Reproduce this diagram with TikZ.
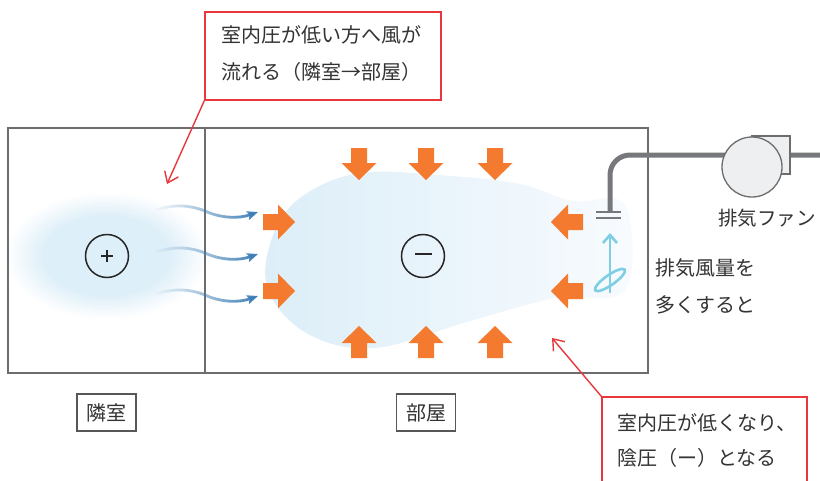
\documentclass[tikz,border=0pt]{standalone}
\usepackage{fontspec}
\newfontfamily\jp{Noto Sans CJK JP}
\usetikzlibrary{arrows.meta,fadings}
\definecolor{roomgray}{HTML}{6D6D6D}
\definecolor{pipegray}{HTML}{77787B}
\definecolor{fanfill}{HTML}{EEEFF1}
\definecolor{blobblue}{HTML}{DCEEF8}
\definecolor{blobend}{HTML}{F8FBFE}
\definecolor{wavecol}{HTML}{3C7DB5}
\definecolor{orangeA}{HTML}{F47A30}
\definecolor{calloutred}{HTML}{E8383D}
\definecolor{spiralcol}{HTML}{7ECFE3}
\definecolor{txt}{HTML}{333333}
\tikzfading[name=wavefade, left color=transparent!100, middle color=transparent!15, right color=transparent!0]
\tikzset{
  lbl/.style={font=\jp\fontsize{20pt}{24pt}\selectfont, text=txt, inner sep=0pt},
  room/.style={draw=roomgray, line width=2pt, fill=none, inner sep=0pt},
  roomlbl/.style={lbl, draw=roomgray!80!black, line width=1.3pt, minimum width=59pt, minimum height=37pt},
  calloutbox/.style={draw=calloutred, line width=1.4pt, fill=white, inner sep=0pt},
  calloutline/.style={draw=calloutred, line width=1.4pt, -{Straight Barb[length=10pt,width=15pt]}},
  signcircle/.style={circle, draw=black!85, line width=1.5pt, minimum size=43pt, inner sep=0pt},
  waveline/.style={draw=wavecol, line width=2.8pt, path fading=wavefade, -{Stealth[length=11pt,width=9pt,inset=2pt]}},
  fatarrow/.pic={\fill[orangeA] (-15,-8) -- (0,-8) -- (0,-17.5) -- (17,0) -- (0,17.5) -- (0,8) -- (-15,8) -- cycle;},
  pipe/.style={draw=pipegray, line width=5pt},
  fanpart/.style={draw=roomgray, line width=1.3pt, fill=fanfill},
}
\begin{document}
\begin{tikzpicture}[x=1pt,y=-1pt]
\clip (0,0) rectangle (820,480);
\fill[white] (0,0) rectangle (820,480);
% left blob: soft radial fade built from stacked ellipses
\foreach \i in {0,...,24}{
  \pgfmathsetmacro{\s}{1-\i*0.016}
  \pgfmathsetmacro{\c}{\i*4}
  \fill[blobblue!\c!white] (107,256) ellipse [x radius={102*\s}, y radius={64*\s}];
}
% right blob
\shade[left color=blobblue, right color=blobend] plot[smooth cycle, tension=0.6] coordinates {(360,173) (450,176) (520,184) (572,201) (625,205) (625,290) (555,298) (470,321) (375,348) (308,334) (268,290) (272,238) (300,198)};
% rooms
\node[room, minimum width=197pt, minimum height=245pt] (nextroom) at (106.5,250.5) {};
\node[room, minimum width=443pt, minimum height=245pt] (thisroom) at (426.5,250.5) {};
% signs
\node[signcircle] (plus) at (107,256) {};
\draw[black!85, line width=1.5pt] (101,256) -- (113,256) (107,250) -- (107,262);
\node[signcircle] (minus) at (423,256) {};
\draw[black!85, line width=2.6pt] (415,254) -- (432,254);
% wavy arrows
\foreach \y in {0,42,84}{
  \draw[waveline] (155,210+\y) .. controls (175,204+\y) and (190,205+\y) .. (205,211+\y) .. controls (220,218+\y) and (238,219+\y) .. (258,212+\y);
}
% orange arrows
\foreach \x in {359,426,495}{
  \pic[rotate=-90] at (\x,163) {fatarrow};
  \pic[rotate=90] at (\x,343) {fatarrow};
}
\foreach \y in {222,291}{
  \pic at (278,\y) {fatarrow};
  \pic[rotate=180] at (568,\y) {fatarrow};
}
% exhaust pipe and fan
\draw[pipe, rounded corners=20pt] (610,212) -- (610,155) -- (825,155);
\draw[fanpart] (752,136) rectangle (790,174);
\node[circle, fanpart, minimum size=60pt, inner sep=0pt] (fan) at (752,167) {};
\draw[draw=pipegray, line width=2pt] (596,211.5) -- (621,211.5) (596,217.5) -- (621,217.5);
\node[lbl, anchor=west, font=\jp\fontsize{19.5pt}{24pt}\selectfont] (fanlbl) at (718,218) {排気ファン};
% swirl arrow
\draw[spiralcol, line width=2.6pt, -{Straight Barb[length=8pt,width=14pt]}] (610,293) -- (610,233);
\draw[spiralcol, line width=2.6pt, rotate around={35:(610,280)}] (610,280) ellipse [x radius=18, y radius=5];
\node[lbl, anchor=west, align=left, font=\jp\fontsize{20pt}{37pt}\selectfont] (exh) at (655,286.5) {排気風量を\\多くすると};
% room labels
\node[roomlbl] (lblnext) at (106.5,412.5) {隣室};
\node[roomlbl] (lblthis) at (426,412.5) {部屋};
% callouts
\node[calloutbox, minimum width=236pt, minimum height=88pt] (ctop) at (323,56) {};
\node[lbl, anchor=west, align=left, font=\jp\fontsize{20pt}{37pt}\selectfont] (ctoptxt) at (221,53.5) {室内圧が低い方へ風が\\流れる（隣室→部屋）};
\coordinate (tipA) at (167,184);
\draw[calloutline] (ctop.south west) -- (tipA);
\node[calloutbox, minimum width=205pt, minimum height=100pt] (cbot) at (704.5,447) {};
\node[lbl, anchor=west, align=left, font=\jp\fontsize{20pt}{35pt}\selectfont] (cbottxt) at (617,440.5) {室内圧が低くなり、\\陰圧（ー）となる};
\coordinate (tipB) at (552,338);
\draw[calloutline] (cbot.north west) -- (tipB);
\end{tikzpicture}
\end{document}
